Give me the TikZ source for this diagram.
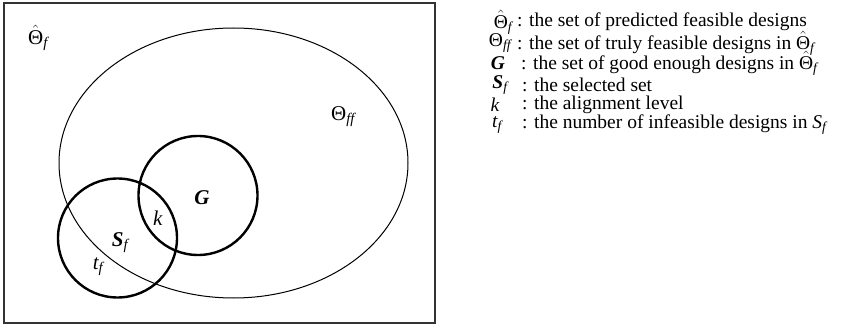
\documentclass[tikz,border=0pt]{standalone}
\usepackage{amsmath}
\usepackage{fontspec}
\setmainfont{Liberation Serif}
\usetikzlibrary{positioning,shapes}

\newcommand{\hatTh}{\ensuremath{\hat{\text{Θ}}_{\textit{f}}}}
\newcommand{\Thff}{\ensuremath{\text{Θ}_{\textit{ff}}}}
\newcommand{\bSf}{\ensuremath{\text{\textbf{\textit{S}}}_{\textit{f}}}}
\newcommand{\bG}{\textbf{\textit{G}}}

\begin{document}
\begin{tikzpicture}[x=1pt, y=-1pt, font=\fontsize{19.5}{22}\selectfont,
    setcirc/.style={draw, circle, line width=2.4pt, minimum size=119pt, inner sep=0pt},
    inlbl/.style={inner sep=1pt, font=\fontsize{21}{24}\selectfont},
    legtext/.style={anchor=west, inner sep=0pt}]
    \useasboundingbox (0,0) rectangle (847,326);

    % outer box and the sets
    \node[draw, line width=1.4pt, black!80, minimum width=431pt, minimum height=320pt, inner sep=0pt] (box) at (219.5,163) {};
    \node[draw, ellipse, line width=1pt, minimum width=349pt, minimum height=270pt, inner sep=0pt] (feas) at (233.5,163) {};
    \node[setcirc] (good) at (198,195.5) {};
    \node[setcirc] (sel) at (117.5,238) {};

    % labels inside the picture
    \node[inlbl] (lhat) at (38,38) {\hatTh};
    \node[inlbl] (lff) at (343,117) {\Thff};
    \node[inlbl] (lg) at (202,198) {\bG};
    \node[inlbl] (lk) at (158,218) {\textit{k}};
    \node[inlbl] (lsf) at (120,243) {\bSf};
    \node[inlbl] (ltf) at (98,267) {$\textit{t}_{\textit{f}}$};

    % legend
    \node[inner sep=0pt] (s1) at (503,22) {\hatTh};
    \node[legtext] (t1) at (517,22) {: the set of predicted feasible designs};
    \node[inner sep=0pt] (s2) at (500,43) {\Thff};
    \node[legtext] (t2) at (517,43) {: the set of truly feasible designs in \hatTh};
    \node[inner sep=0pt] (s3) at (498,63) {\bG};
    \node[legtext] (t3) at (521,63) {: the set of good enough designs in \hatTh};
    \node[inner sep=0pt] (s4) at (500,85) {\bSf};
    \node[legtext] (t4) at (522,85) {: the selected set};
    \node[inner sep=0pt] (s5) at (495,105) {\textit{k}};
    \node[legtext] (t5) at (522,105) {: the alignment level};
    \node[inner sep=0pt] (s6) at (497,125) {$\textit{t}_{\textit{f}}$};
    \node[legtext] (t6) at (522,125) {: the number of infeasible designs in \textit{S}$_{\textit{f}}$};
\end{tikzpicture}
\end{document}
